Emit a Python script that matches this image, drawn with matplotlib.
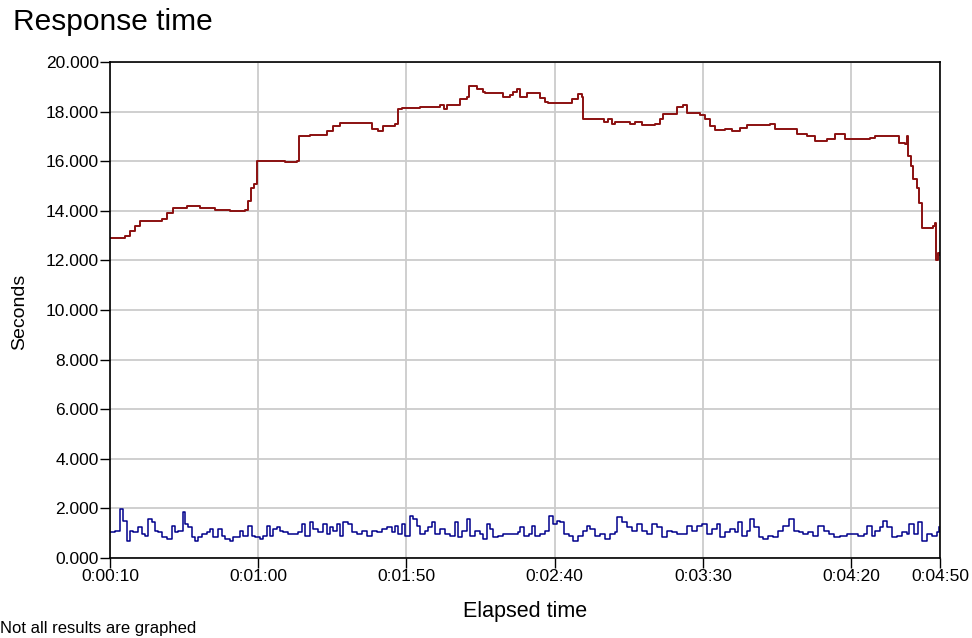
import numpy as np
import matplotlib
matplotlib.use('Agg')
import matplotlib.pyplot as plt
from matplotlib.ticker import FuncFormatter

plt.rcParams['font.family'] = ['Liberation Sans', 'DejaVu Sans']

# elapsed time in seconds, response time in seconds
red_t = [10.0, 15.1, 16.7, 18.4, 20.1, 27.5, 29.2, 31.3, 36.0, 39.4, 40.4, 45.4, 50.5,
         55.5, 56.6, 57.6, 58.6, 59.6, 64.0, 69.0, 73.1, 73.8, 77.5, 83.2, 85.2, 87.6,
         96.7, 98.4, 100.4, 102.1, 106.2, 107.2, 108.5, 114.6, 121.3, 122.7, 123.7, 127.1,
         128.1, 130.4, 131.1, 133.8, 135.8, 136.5, 141.6, 142.6, 144.9, 146.0, 147.3,
         148.3, 150.7, 153.4, 155.1, 156.8, 157.8, 164.2, 165.9, 167.9, 169.2, 169.6,
         175.3, 176.7, 178.0, 179.4, 180.4, 183.8, 185.5, 187.2, 189.5, 193.9, 195.6,
         196.6, 200.0, 201.3, 203.3, 204.7, 209.1, 210.7, 212.4, 214.1, 217.5, 219.9,
         222.5, 224.9, 232.6, 234.3, 236.0, 241.8, 245.1, 247.9, 251.9, 254.6, 258.0,
         266.4, 268.1, 275.5, 276.2, 278.2, 278.9, 279.2, 280.2, 280.9, 282.3, 282.9,
         284.0, 287.7, 288.3, 288.7, 289.4, 290.0]
red_v = [12.9, 13.0, 13.2, 13.4, 13.6, 13.65, 13.9, 14.1, 14.2, 14.2, 14.1, 14.05, 14.0,
         14.05, 14.4, 14.9, 15.1, 16.0, 16.0, 15.95, 16.0, 17.0, 17.05, 17.2, 17.4, 17.55,
         17.55, 17.3, 17.2, 17.4, 17.5, 18.1, 18.15, 18.2, 18.25, 18.1, 18.25, 18.25,
         18.5, 18.6, 19.05, 18.9, 18.8, 18.75, 18.75, 18.6, 18.65, 18.8, 18.9,
         18.6, 18.75, 18.75, 18.55, 18.4, 18.35, 18.35, 18.5, 18.7, 18.6, 17.7,
         17.7, 17.6, 17.7, 17.5, 17.6, 17.6, 17.5, 17.6, 17.45, 17.5, 17.7,
         17.9, 17.9, 18.2, 18.25, 17.95, 17.85, 17.7, 17.4, 17.25, 17.3, 17.2,
         17.35, 17.45, 17.5, 17.3, 17.3, 17.1, 17.0, 16.8, 16.9, 17.1, 16.9,
         16.95, 17.0, 17.0, 16.75, 16.7, 17.0, 16.2, 15.8, 15.3, 14.9, 14.3,
         13.3, 13.4, 13.5, 12.0, 12.3, 12.2]

blue_t = [10.0, 11.7, 13.4, 14.5, 15.6, 16.7, 17.9, 19.6, 20.7, 21.8, 22.9, 24.1, 25.2,
          26.3, 27.4, 29.1, 30.8, 31.9, 33.0, 34.5, 35.3, 36.4, 37.6, 38.7, 39.8, 40.9,
          42.6, 43.7, 44.9, 46.5, 47.7, 48.8, 50.5, 51.6, 53.9, 55.0, 56.7, 57.8, 58.9,
          60.6, 61.7, 62.9, 64.0, 65.1, 66.2, 67.4, 68.5, 70.2, 71.8, 73.5, 74.7, 75.8,
          77.5, 78.6, 80.3, 82.0, 83.1, 84.2, 85.3, 86.5, 87.6, 88.7, 90.4, 91.5, 93.2,
          94.9, 96.6, 98.3, 100.0, 101.7, 103.3, 105.0, 106.2, 107.3, 108.4, 109.5,
          111.2, 112.3, 113.5, 114.6, 116.3, 117.4, 118.5, 119.7, 121.3, 123.0, 124.7,
          126.4, 127.5, 128.6, 130.3, 131.5, 133.1, 134.8, 135.9, 137.1, 138.2, 139.3,
          141.0, 142.7, 144.4, 146.1, 147.8, 148.3, 149.5, 151.2, 152.3, 153.4, 155.1,
          156.8, 158.2, 159.6, 160.7, 161.8, 163.0, 164.7, 166.3, 168.0, 169.7, 170.8,
          172.0, 173.7, 175.3, 177.0, 178.7, 180.4, 181.2, 182.6, 184.3, 186.0, 187.7,
          189.4, 191.1, 192.8, 194.5, 196.1, 197.8, 199.5, 201.2, 202.9, 204.6, 206.3,
          208.0, 209.6, 211.3, 213.0, 214.7, 215.8, 217.5, 219.2, 220.9, 222.0, 223.1,
          224.8, 225.9, 227.1, 228.8, 230.4, 232.1, 233.8, 235.5, 237.2, 238.9, 240.6,
          242.3, 243.9, 245.6, 247.3, 249.0, 250.7, 252.4, 254.1, 256.3, 258.6, 260.8,
          262.5, 264.2, 265.3, 267.0, 268.1, 269.8, 270.7, 272.1, 273.7, 275.4, 277.1,
          278.8, 279.7, 281.1, 282.7, 283.9, 285.5, 287.2, 288.9, 289.8]
blue_v = [1.03, 1.10, 1.98, 1.50, 0.69, 1.10, 1.03, 1.23, 0.96, 0.89, 1.57, 1.44, 1.10,
          1.03, 0.83, 0.76, 1.30, 1.03, 1.10, 1.84, 1.37, 1.23, 0.83, 0.69, 0.83, 0.96,
          1.03, 1.17, 0.83, 1.17, 0.89, 0.76, 0.69, 0.83, 1.10, 0.89, 1.30, 0.89, 0.83,
          0.76, 0.89, 1.30, 0.89, 1.17, 1.23, 1.10, 1.03, 0.96, 0.96, 1.03, 1.37, 0.89,
          1.44, 1.17, 1.03, 1.37, 0.96, 1.23, 1.10, 1.37, 0.89, 1.44, 1.37, 1.03, 0.96,
          1.10, 0.89, 1.10, 1.03, 1.17, 1.23, 1.03, 1.30, 0.96, 1.37, 0.89,
          1.71, 1.57, 1.30, 0.96, 1.10, 1.23, 1.44, 0.96, 1.17, 0.96, 0.89,
          1.44, 0.83, 1.10, 1.57, 0.89, 1.10, 0.96, 0.76, 1.37, 1.17, 0.83,
          0.89, 0.96, 0.96, 0.96, 1.03, 1.23, 0.89, 0.96, 1.30, 0.89, 0.96,
          1.10, 1.71, 1.37, 1.50, 1.44, 0.96, 0.89, 0.69, 0.89, 1.10, 1.30,
          1.17, 0.89, 0.96, 0.76, 0.96, 1.03, 1.64, 1.44, 1.23, 1.10, 1.37,
          1.10, 0.96, 1.37, 1.23, 0.83, 1.10, 1.03, 0.96, 0.96, 1.30, 1.10,
          1.30, 1.37, 0.96, 1.17, 1.37, 0.83, 1.03, 1.17, 1.03, 1.44, 0.89,
          1.10, 1.57, 1.23, 0.83, 0.76, 0.89, 0.83, 1.10, 1.30, 1.57, 1.10,
          1.03, 0.96, 1.03, 0.89, 1.30, 1.10, 0.96, 0.83, 0.89, 0.96, 0.96,
          0.89, 0.96, 1.30, 0.89, 1.10, 1.23, 1.50, 1.23, 0.83, 0.89, 1.03,
          0.96, 1.37, 0.96, 1.44, 0.69, 0.96, 0.89, 1.03, 1.23]

x_ticks = [10, 60, 110, 160, 210, 260, 290]
y_ticks = [0, 2, 4, 6, 8, 10, 12, 14, 16, 18, 20]


def hms(sec, pos=None):
    sec = int(round(sec))
    return f'{sec // 3600}:{(sec % 3600) // 60:02d}:{sec % 60:02d}'


W, H = 972, 638
fig = plt.figure(figsize=(W / 100, H / 100), dpi=100)
ax = fig.add_axes([110 / W, 1 - 558 / H, 830 / W, 496 / H])

ax.plot(red_t, red_v, color='#8b1010', lw=1.4, drawstyle='steps-post')
ax.plot(blue_t, blue_v, color='#00008b', lw=1.1, drawstyle='steps-post')

ax.set_xlim(10, 290)
ax.set_ylim(0, 20)
ax.set_xticks(x_ticks)
ax.set_yticks(y_ticks)
ax.xaxis.set_major_formatter(FuncFormatter(hms))
ax.yaxis.set_major_formatter(FuncFormatter(lambda v, p: f'{v:.3f}'))
ax.grid(True, color='#cccccc', lw=1.3)
ax.set_axisbelow(True)
ax.tick_params(direction='out', length=7, width=1, labelsize=12.5, pad=1, colors='black')
for s in ax.spines.values():
    s.set_color('black')
    s.set_linewidth(1.2)

fig.text(13 / W, 1 - 22 / H, 'Response time', fontsize=21.5, va='center', ha='left')
fig.text(20 / W, 1 - 312 / H, 'Seconds', fontsize=14, rotation=90, va='center', ha='center')
fig.text(525 / W, 1 - 612 / H, 'Elapsed time', fontsize=15.5, va='center', ha='center')
fig.text(0 / W, 1 - 628 / H, 'Not all results are graphed', fontsize=12, va='center', ha='left')

fig.savefig('out.png', dpi=100)
